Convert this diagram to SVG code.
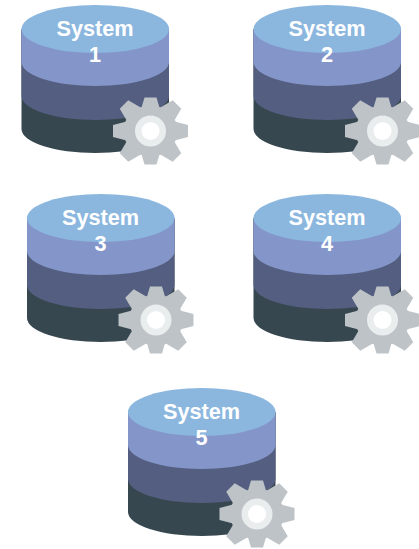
<svg xmlns="http://www.w3.org/2000/svg" width="419" height="549" viewBox="0 0 419 549">
<style>
.l1{fill:#8bb7df}.l2{fill:#8496c9}.l3{fill:#545e80}.l4{fill:#37474f}
.g{fill:#bdc3c7}.h1{fill:#e9edee}.h2{fill:#fff}
text{font-family:"Liberation Sans",Arial,sans-serif;font-weight:700;font-size:21.7px;fill:#fff;text-anchor:middle}
</style>
<defs>
<polygon id="tooth" class="g" points="-6,-37.5 6,-37.5 10,-22 -10,-22"/>
<polygon id="toothv" class="g" points="-6,-33.5 6,-33.5 10,-20 -10,-20"/>
<g id="db">
<path class="l4" d="M21.5 29V129A73.75 24 0 0 0 169 129V29Z"/>
<path class="l3" d="M21.5 29V96A73.75 24 0 0 0 169 96V29Z"/>
<path class="l2" d="M21.5 29V62A73.75 24 0 0 0 169 62V29Z"/>
<ellipse class="l1" cx="95.25" cy="29" rx="73.75" ry="24"/>
<g transform="translate(150.5 131)">
<ellipse class="g" rx="27" ry="25.5"/>
<use href="#toothv"/>
<use href="#tooth" transform="rotate(45)"/>
<use href="#tooth" transform="rotate(90)"/>
<use href="#tooth" transform="rotate(135)"/>
<use href="#toothv" transform="rotate(180)"/>
<use href="#tooth" transform="rotate(225)"/>
<use href="#tooth" transform="rotate(270)"/>
<use href="#tooth" transform="rotate(315)"/>
<circle class="h1" r="15.5"/>
<circle class="h2" r="9"/>
</g>
</g>
</defs>
<g id="system-1"><use href="#db"/><text x="95" y="36">System</text><text x="95" y="62">1</text></g>
<g id="system-2" transform="translate(232 0)"><use href="#db"/><text x="95" y="36">System</text><text x="95" y="62">2</text></g>
<g id="system-3" transform="translate(5.5 189)"><use href="#db"/><text x="95" y="36">System</text><text x="95" y="62">3</text></g>
<g id="system-4" transform="translate(232 189)"><use href="#db"/><text x="95" y="36">System</text><text x="95" y="62">4</text></g>
<g id="system-5" transform="translate(106.5 383)"><use href="#db"/><text x="95" y="36">System</text><text x="95" y="62">5</text></g>
</svg>
